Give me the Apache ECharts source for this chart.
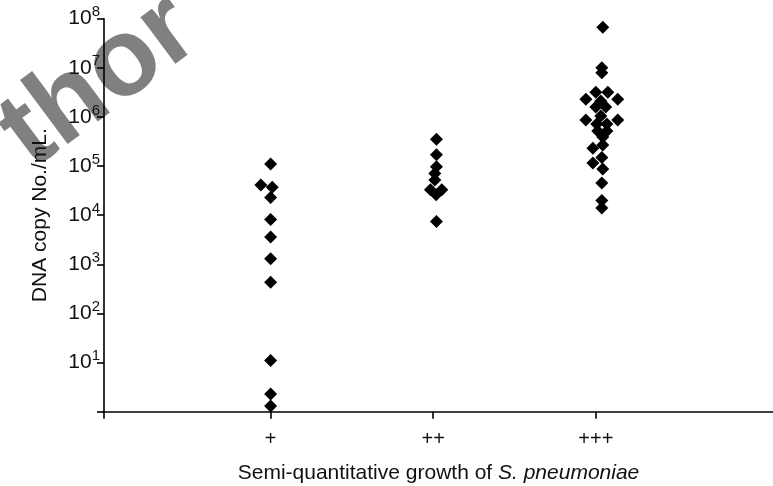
<!DOCTYPE html>
<html>
<head>
<meta charset="utf-8">
<script src="https://cdn.jsdelivr.net/npm/echarts@6/dist/echarts.min.js"></script>
<style>
  html, body { margin: 0; padding: 0; background: #fff; }
  #main { width: 773px; height: 486px; }
</style>
</head>
<body>
<div id="main"></div>
<script>
// growth groups on the x axis
var groups = ['+', '++', '+++'];

// DNA copy No./mL per sample
var plusVals = [1.1e5, 4.1e4, 3.7e4, 2.3e4, 8.2e3, 3.6e3, 1.3e3, 430, 11, 2.3, 1.3];
var plusJitter = [0, -0.06, 0.01, 0, 0, 0, 0, 0, 0, 0, 0];

var doubleVals = [3.5e5, 1.7e5, 9.7e4, 7.1e4, 5.2e4, 3.3e4, 3.3e4, 2.6e4, 7.4e3];
var doubleJitter = [0.02, 0.02, 0.02, 0.01, 0.01, -0.017, 0.053, 0.018, 0.02];

var tripleVals = [6.7e7, 1.0e7, 7.9e6, 3.2e6, 3.2e6, 2.3e6, 2.3e6, 2.1e6, 1.6e6, 1.6e6,
  1.05e6, 8.7e5, 8.7e5, 7.2e5, 7.2e5, 5.2e5, 5.2e5, 3.9e5, 2.7e5, 2.3e5,
  1.5e5, 1.16e5, 8.7e4, 4.5e4, 2.0e4, 1.4e4];
var tripleJitter = [0.043, 0.037, 0.037, 0, 0.074, -0.061, 0.135, 0.031, 0, 0.061,
  0.031, -0.061, 0.135, 0.006, 0.068, 0.012, 0.068, 0.043, 0.043, -0.018,
  0.037, -0.018, 0.043, 0.037, 0.037, 0.037];

var FONT = '"Liberation Sans", Arial, Helvetica, sans-serif';

function toPoints(pos, vals, jitter) {
  return vals.map(function (v, i) { return [pos + jitter[i], v]; });
}

var points = []
  .concat(toPoints(1, plusVals, plusJitter))
  .concat(toPoints(2, doubleVals, doubleJitter))
  .concat(toPoints(3, tripleVals, tripleJitter));

var myChart = echarts.init(document.getElementById('main'));

var option = {
  animation: false,
  backgroundColor: '#fff',
  grid: { left: 104, top: 18.7, width: 669, height: 393, containLabel: false, outerBoundsMode: 'none' },
  graphic: [{
    type: 'text',
    x: 14, y: 146,
    rotation: 0.64,
    z: -10,
    silent: true,
    style: {
      text: 'thor',
      fill: '#808080',
      font: 'bold 110px ' + FONT,
      align: 'left',
      verticalAlign: 'middle'
    }
  }],
  xAxis: {
    type: 'value',
    min: -0.025,
    max: 4.09,
    splitLine: { show: false },
    axisLine: { lineStyle: { color: '#000', width: 1.6 } },
    axisTick: {
      length: 7,
      customValues: [-0.025, 1, 2, 3],
      lineStyle: { color: '#000', width: 1.6 }
    },
    axisLabel: {
      customValues: [1, 2, 3],
      margin: 18,
      color: '#111',
      fontSize: 20,
      fontFamily: FONT,
      formatter: function (v) { return groups[Math.round(v) - 1] || ''; }
    },
    name: '{n|Semi-quantitative growth of }{i|S. pneumoniae}',
    nameLocation: 'middle',
    nameGap: 51,
    nameTextStyle: {
      rich: {
        n: { fontSize: 21, fontFamily: FONT, color: '#111' },
        i: { fontSize: 21, fontFamily: FONT, color: '#111', fontStyle: 'italic' }
      }
    }
  },
  yAxis: {
    type: 'log',
    logBase: 10,
    min: 1,
    max: 1e8,
    splitNumber: 8,
    splitLine: { show: false },
    axisLine: { onZero: false, lineStyle: { color: '#000', width: 1.6 } },
    axisTick: { length: 7, lineStyle: { color: '#000', width: 1.6 } },
    axisLabel: {
      margin: 4,
      formatter: function (v) {
        var e = Math.round(Math.log10(v));
        if (e <= 0) return '';
        return '{b|10}{s|' + e + '}';
      },
      rich: {
        b: { fontSize: 21, lineHeight: 28, fontFamily: FONT, color: '#111' },
        s: { fontSize: 15, lineHeight: 15, fontFamily: FONT, color: '#111', verticalAlign: 'top' }
      }
    },
    name: 'DNA copy No./mL.',
    nameLocation: 'middle',
    nameGap: 53,
    nameRotate: 90,
    nameTextStyle: { fontSize: 21, fontFamily: FONT, color: '#111' }
  },
  series: [{
    type: 'scatter',
    symbol: 'diamond',
    symbolSize: 13,
    itemStyle: { color: '#000', opacity: 1 },
    data: points
  }]
};

myChart.setOption(option);
</script>
</body>
</html>
